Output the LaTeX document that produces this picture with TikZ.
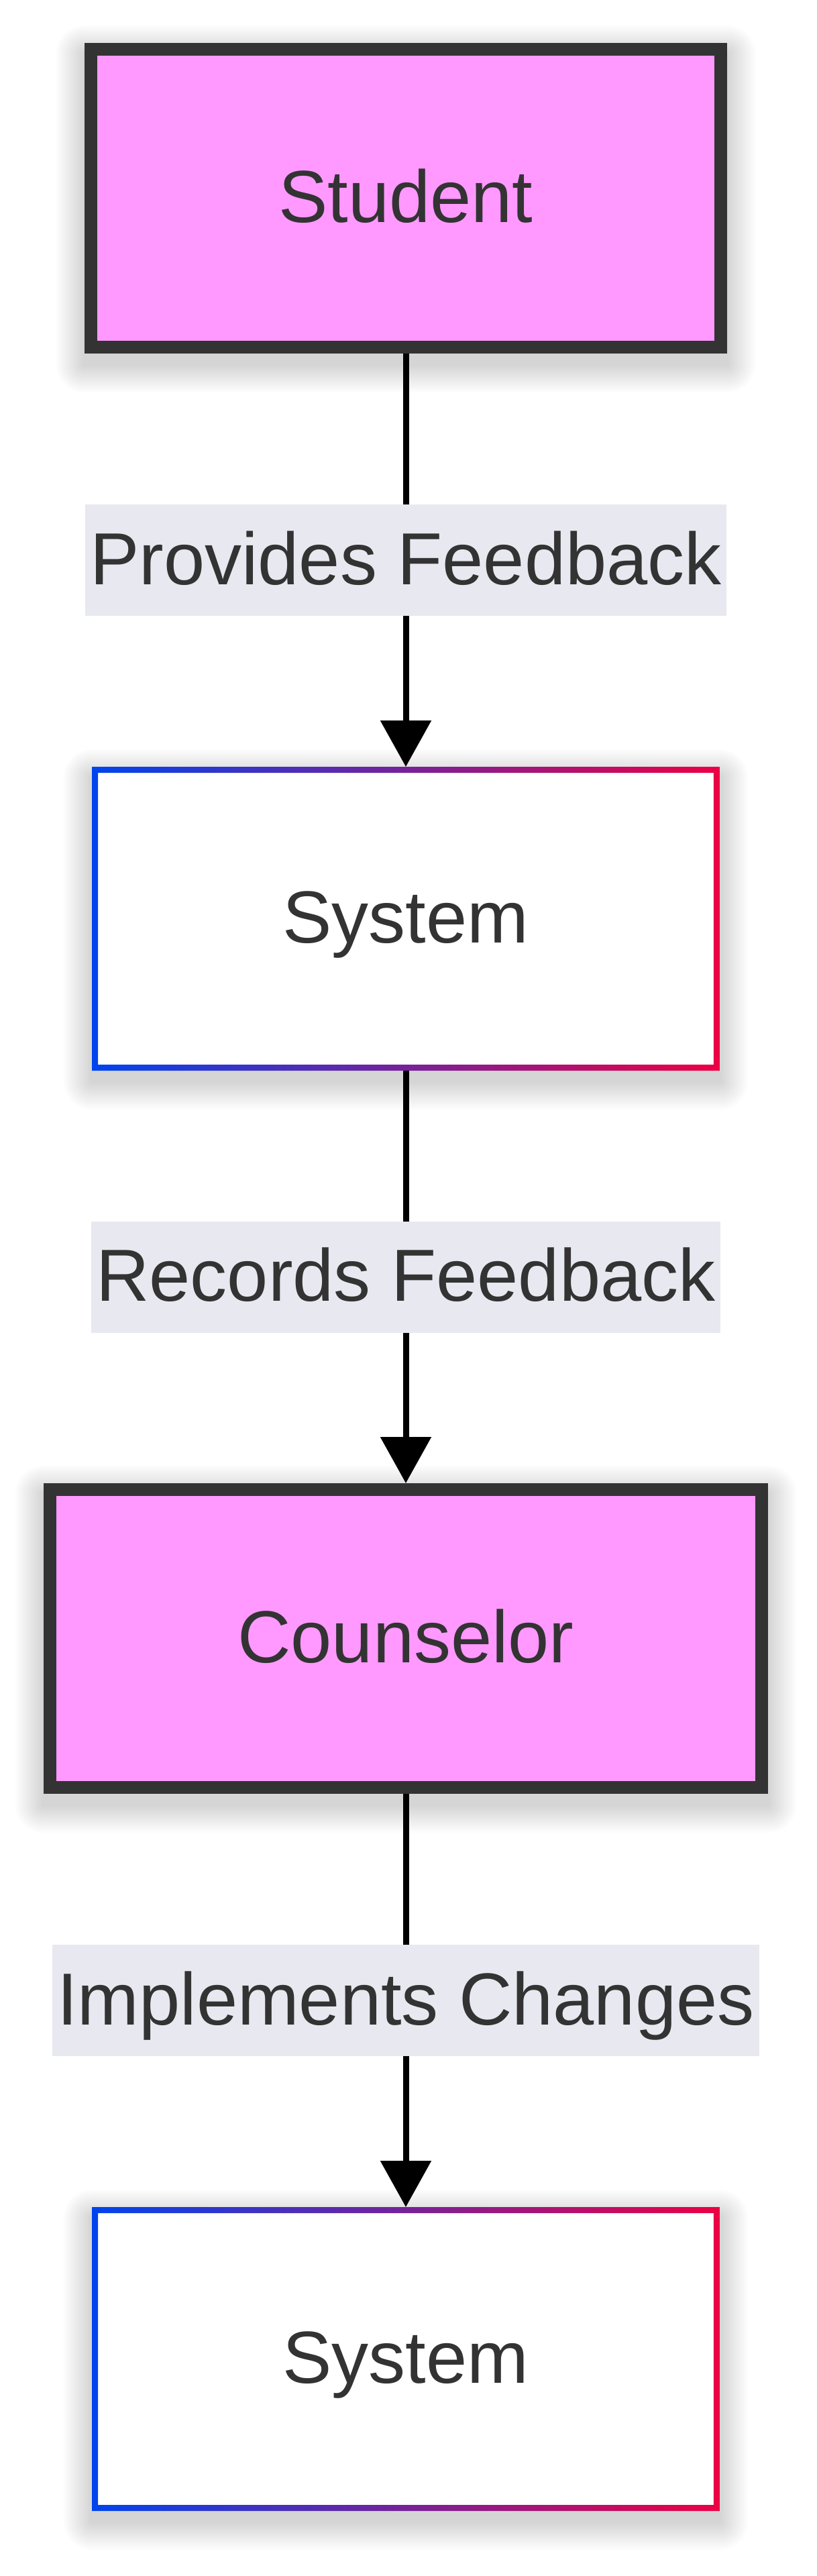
\documentclass[tikz,border=0pt]{standalone}
\usepackage{fontspec}
\setmainfont{Liberation Sans}
\usepackage{tikz}
\usetikzlibrary{arrows.meta,positioning,backgrounds}
\usepackage{xcolor}
\definecolor{ActorPink}{RGB}{255,153,255}
\definecolor{Ink}{RGB}{51,51,51}
\definecolor{LabelBg}{RGB}{232,232,240}
\definecolor{SysBlue}{RGB}{0,68,238}
\definecolor{SysRed}{RGB}{236,0,68}

% gradient frame round a system box
\newcommand{\gradframe}[1]{%
  \shade[left color=SysBlue,right color=SysRed,even odd rule]
    (#1.south west) rectangle (#1.north east)
    ([shift={(.9pt,.9pt)}]#1.south west) rectangle ([shift={(-.9pt,-.9pt)}]#1.north east);}
% soft drop shadow
\newcommand{\softshadow}[1]{%
  \foreach \r in {0.3,0.6,...,4.5}
    \fill[black,opacity=.012,rounded corners=\r*1pt]
      ([shift={(-\r*1pt,-\r*1pt-1.6pt)}]#1.south west) rectangle ([shift={(\r*1pt,\r*1pt-1.6pt)}]#1.north east);}

\begin{document}
\begin{tikzpicture}[every node/.style={font=\fontsize{11pt}{13pt}\selectfont,text=Ink,text height=7.2pt,text depth=0pt},
  act/.style={draw=Ink,line width=1.9pt,outer sep=.95pt,fill=ActorPink,minimum height=44.4pt,inner xsep=28pt},
  sysn/.style={fill=white,line width=.9pt,outer sep=.45pt,minimum height=44.4pt,inner xsep=28pt},
  lab/.style={fill=LabelBg,minimum height=16.6pt,inner xsep=.7pt,inner ysep=0pt},
  conn/.style={-{Triangle[length=6.9pt,width=7.4pt]},line width=.9pt,black}]
\useasboundingbox (0,0) rectangle (121.8pt,-384pt);
\node[act] (stu) at (60.5pt,-29.55pt) {Student};
\node[sysn,below=61.6pt of stu] (sys1) {System};
\node[act,below=61.5pt of sys1] (cou) {Counselor};
\node[sysn,below=61.6pt of cou] (sys2) {System};
\gradframe{sys1}
\gradframe{sys2}
\begin{scope}[on background layer]
\softshadow{stu}
\softshadow{sys1}
\softshadow{cou}
\softshadow{sys2}
\end{scope}
\draw[conn] (stu) -- node[lab] {Provides Feedback} (sys1);
\draw[conn] (sys1) -- node[lab] {Records Feedback} (cou);
\draw[conn] (cou) -- node[lab] {Implements Changes} (sys2);
\end{tikzpicture}
\end{document}
